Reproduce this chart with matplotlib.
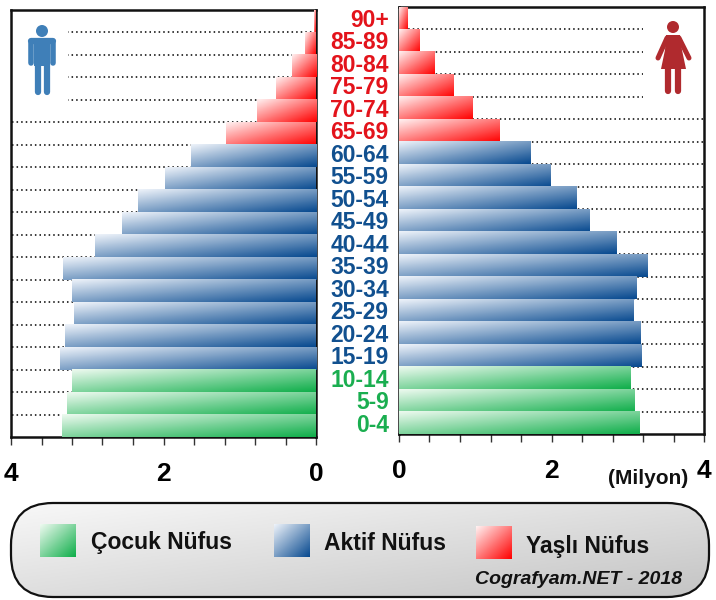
import numpy as np
import matplotlib
matplotlib.use("Agg")
import matplotlib.pyplot as plt
from matplotlib.colors import LinearSegmentedColormap
from matplotlib.patches import Circle, FancyBboxPatch, Polygon, Rectangle

# oldest group first, as read top to bottom
ages = ["90+", "85-89", "80-84", "75-79", "70-74", "65-69", "60-64", "55-59", "50-54", "45-49",
        "40-44", "35-39", "30-34", "25-29", "20-24", "15-19", "10-14", "5-9", "0-4"]
male = [0.02, 0.14, 0.32, 0.52, 0.78, 1.18, 1.64, 1.98, 2.34, 2.55,
        2.90, 3.32, 3.20, 3.17, 3.29, 3.36, 3.20, 3.26, 3.33]
female = [0.11, 0.27, 0.47, 0.71, 0.96, 1.32, 1.72, 1.99, 2.33, 2.50,
          2.85, 3.26, 3.12, 3.08, 3.17, 3.18, 3.04, 3.09, 3.16]
groups = ["red"] * 6 + ["blue"] * 10 + ["green"] * 3
legend_names = ["Çocuk Nüfus", "Aktif Nüfus", "Yaşlı Nüfus"]

W, H = 716, 600
cols = {"red": ("#fff2f2", "#ff0000", "#e3131b"),
        "blue": ("#eef3fa", "#07498f", "#11508f"),
        "green": ("#eefaf0", "#0fae4a", "#1aae50")}
plt.rcParams["font.family"] = ["Liberation Sans"]


def grad(name, n=64):
    cmap = LinearSegmentedColormap.from_list(name, cols[name][:2])
    u, v = np.meshgrid(np.linspace(0, 1, n), np.linspace(0, 1, n))
    return cmap((u + v) / 2)


def box(l, t, r, b):
    return [l / W, 1 - b / H, (r - l) / W, (b - t) / H]


def pyramid(ax, vals, xlim, short_end):
    y = np.arange(len(ages))[::-1]
    bars = ax.barh(y + 0.5, vals, height=1.0, color="white", zorder=2)
    for bar, g in zip(bars, groups):
        x0, x1 = bar.get_x(), bar.get_x() + bar.get_width()
        y0, y1 = bar.get_y(), bar.get_y() + bar.get_height()
        # image starts at the far end on the left panel, so it stays light on screen left
        ext = (x1, x0, y0, y1) if xlim[0] > xlim[1] else (x0, x1, y0, y1)
        ax.imshow(grad(g), extent=ext, aspect="auto", origin="upper", zorder=3, interpolation="bilinear")
    for yy in range(1, len(ages)):
        # top four dotted lines stop short of the icons
        end = short_end if yy >= 15 else 4
        ax.hlines(yy, 0, end, color="black", lw=1.1, linestyles=(0, (1, 2)), zorder=1)
    ax.set_xlim(*xlim)
    ax.set_ylim(0, len(ages))
    ax.set_yticks([])
    ax.set_xticks([0, 2, 4])
    ax.set_xticks(np.arange(0, 4.01, 0.4), minor=True)
    ax.tick_params(axis="x", which="both", length=6, width=1, color="#333333")
    for s in ax.spines.values():
        s.set_linewidth(1.8)
        s.set_color("#111111")


fig = plt.figure(figsize=(W / 100, H / 100), dpi=100, facecolor="white")

ax_l = fig.add_axes(box(11, 10, 316, 437))
pyramid(ax_l, male, (4, 0), 3.25)
ax_r = fig.add_axes(box(399, 7, 704, 434))
pyramid(ax_r, female, (0, 4), 3.2)

for ax in (ax_l, ax_r):
    ax.set_xticklabels(["0", "2", "4"], fontsize=19, fontweight="bold")
    ax.tick_params(axis="x", which="major", pad=12)

# age labels sit in the gap, right aligned
for i, (a, g) in enumerate(zip(ages, groups)):
    ax_r.text(-0.135, len(ages) - i - 0.6, a, ha="right", va="center", fontsize=16.5,
              fontweight="bold", color=cols[g][2], clip_on=False, zorder=5)

# overlay in pixel coordinates for icons and legend
ov = fig.add_axes([0, 0, 1, 1], zorder=10)
ov.patch.set_alpha(0)

# man icon
c = "#3f7fb8"
ov.add_patch(Circle((42, 31), 6, color=c, lw=0))
ov.add_patch(Rectangle((34, 38), 16, 28, color=c, lw=0))
ov.plot([31, 31], [43, 63], color=c, lw=4, solid_capstyle="round")
ov.plot([53, 53], [43, 63], color=c, lw=4, solid_capstyle="round")
ov.plot([31, 53], [41, 41], color=c, lw=4.5, solid_capstyle="round")
ov.plot([37.5, 37.5], [62, 92], color=c, lw=4.5, solid_capstyle="round")
ov.plot([46.5, 46.5], [62, 92], color=c, lw=4.5, solid_capstyle="round")

# woman icon
c = "#b02a2e"
ov.add_patch(Circle((673, 27), 6, color=c, lw=0))
ov.add_patch(Polygon([(666, 35), (680, 35), (682, 50), (686, 69), (661, 69), (665, 50)], color=c, lw=0))
ov.plot([667, 658], [38, 58], color=c, lw=3.6, solid_capstyle="round")
ov.plot([679, 689], [38, 58], color=c, lw=3.6, solid_capstyle="round")
ov.plot([668, 668], [68, 91], color=c, lw=4.5, solid_capstyle="round")
ov.plot([678, 678], [68, 91], color=c, lw=4.5, solid_capstyle="round")

# legend panel
panel = FancyBboxPatch((11, 503), 698, 94, boxstyle="round,pad=0,rounding_size=42",
                       fc="none", ec="#111111", lw=1.6, zorder=3)
ov.add_patch(panel)
u, v = np.meshgrid(np.linspace(0, 1, 128), np.linspace(0, 1, 64))
shade = LinearSegmentedColormap.from_list("panel", ["#f8f8f8", "#c4c4c4"])((u + v) / 2)
im = ov.imshow(shade, extent=(11, 709, 597, 503), aspect="auto", zorder=1)
im.set_clip_path(panel)

swatches = [("green", 40, 524), ("blue", 274, 524), ("red", 476, 526)]
label_pos = [(91, 543), (324, 543), (526, 546)]
for (g, x, y), name, (tx, ty) in zip(swatches, legend_names, label_pos):
    ov.imshow(grad(g), extent=(x, x + 36, y + 33, y), aspect="auto", zorder=4)
    ov.text(tx, ty, name, fontsize=16.5, fontweight="bold", ha="left", va="center", color="#111111", zorder=5)
ov.text(682, 580, "Cografyam.NET - 2018", fontsize=14, fontweight="bold", style="italic",
        ha="right", va="center", color="#111111", zorder=5)
ov.text(688, 479, "(Milyon)", fontsize=15, fontweight="bold", ha="right", va="center",
        color="#111111", zorder=5)
ov.set_xlim(0, W)
ov.set_ylim(H, 0)
ov.axis("off")

fig.savefig("out.png", dpi=100)
